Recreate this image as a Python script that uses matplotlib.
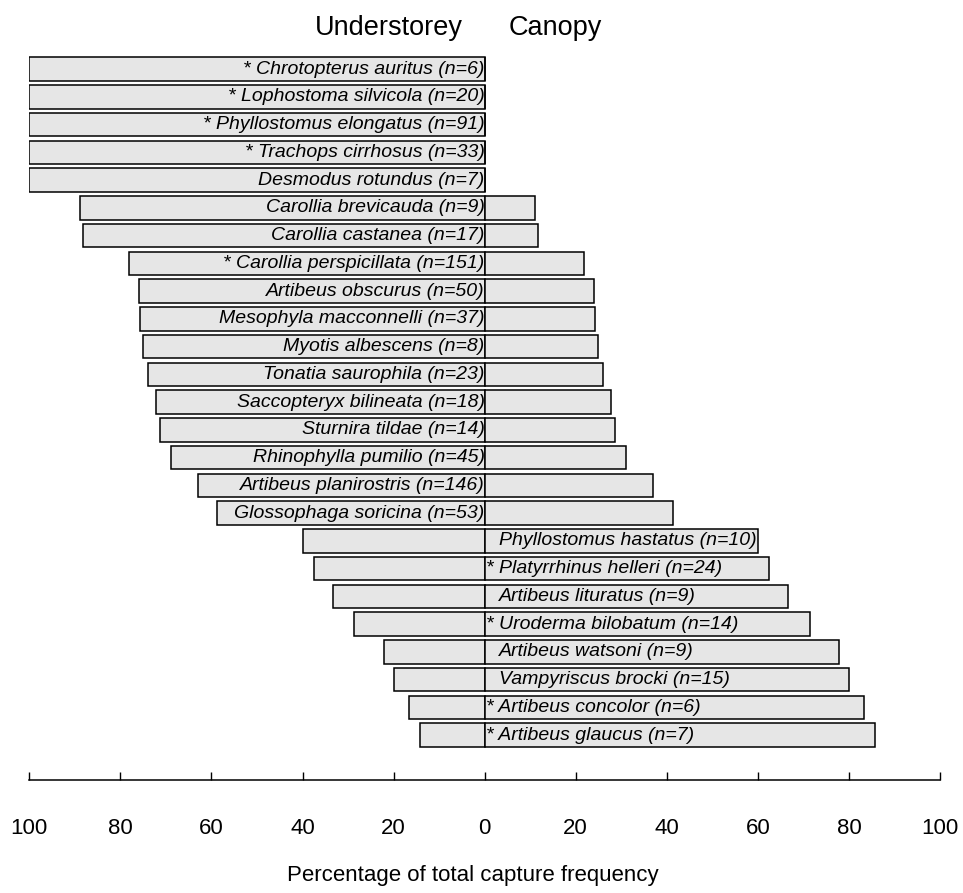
import matplotlib
matplotlib.use("Agg")
import matplotlib.pyplot as plt

plt.rcParams['font.family'] = ['Liberation Sans', 'DejaVu Sans']

species = [
    "Chrotopterus auritus", "Lophostoma silvicola", "Phyllostomus elongatus",
    "Trachops cirrhosus", "Desmodus rotundus", "Carollia brevicauda",
    "Carollia castanea", "Carollia perspicillata", "Artibeus obscurus",
    "Mesophyla macconnelli", "Myotis albescens", "Tonatia saurophila",
    "Saccopteryx bilineata", "Sturnira tildae", "Rhinophylla pumilio",
    "Artibeus planirostris", "Glossophaga soricina", "Phyllostomus hastatus",
    "Platyrrhinus helleri", "Artibeus lituratus", "Uroderma bilobatum",
    "Artibeus watsoni", "Vampyriscus brocki", "Artibeus concolor",
    "Artibeus glaucus",
]
n_captures = [6, 20, 91, 33, 7, 9, 17, 151, 50, 37, 8, 23, 18, 14, 45, 146,
              53, 10, 24, 9, 14, 9, 15, 6, 7]
significant = [1, 1, 1, 1, 0, 0, 0, 1, 0, 0, 0, 0, 0, 0, 0, 0,
               0, 0, 1, 0, 1, 0, 0, 1, 1]
understorey_pct = [100, 100, 100, 100, 100, 88.9, 88.2, 78.1, 76.0, 75.7,
                   75.0, 73.9, 72.2, 71.4, 68.9, 63.0, 58.7, 40.0, 37.5,
                   33.3, 28.6, 22.2, 20.0, 16.7, 14.3]
canopy_pct = [0, 0, 0, 0, 0, 11.1, 11.8, 21.9, 24.0, 24.3, 25.0, 26.1, 27.8,
              28.6, 31.1, 37.0, 41.3, 60.0, 62.5, 66.7, 71.4, 77.8, 80.0,
              83.3, 85.7]
tick_values = [-100, -80, -60, -40, -20, 0, 20, 40, 60, 80, 100]

W, H = 963, 893
fig = plt.figure(figsize=(W / 100, H / 100), dpi=100)

# axes placed in pixel terms: x from 29.3 to 940, y from 40 to 780
left_px, right_px, top_px, bot_px = 29.3, 940.0, 40.0, 780.0
ax = fig.add_axes([left_px / W, 1 - bot_px / H,
                   (right_px - left_px) / W, (bot_px - top_px) / H])

bar_h = 0.84
face = "#E6E6E6"
ypos = list(range(len(species)))
ax.barh(ypos, [-u for u in understorey_pct], height=bar_h, left=0,
        color=face, edgecolor="black", linewidth=1.1)
ax.barh(ypos, canopy_pct, height=bar_h, left=0,
        color=face, edgecolor="black", linewidth=1.1)

for y, name, n, star, c in zip(ypos, species, n_captures, significant, canopy_pct):
    label = ("* " if star else "") + f"{name} (n={n})"
    if c > 50:
        off = 1.5 if star else 14
        ax.annotate(label, (0, y), xytext=(off, 0), textcoords="offset pixels",
                    ha="left", va="center", fontsize=14, style="italic")
    else:
        ax.annotate(label, (0, y), xytext=(0, 0), textcoords="offset pixels",
                    ha="right", va="center", fontsize=14, style="italic")

spacing = 27.75
first_c = 69.1
ax.set_ylim((bot_px - first_c) / spacing, -(first_c - top_px) / spacing)
ax.set_xlim(-100, 100)

for s in ("top", "left", "right"):
    ax.spines[s].set_visible(False)
ax.spines["bottom"].set_linewidth(1.1)
ax.set_yticks([])
ax.set_xticks(tick_values)
ax.set_xticklabels([str(abs(v)) for v in tick_values])
ax.tick_params(axis="x", direction="in", length=6, width=1.0,
               labelsize=16, pad=27)

fig.text(389 / W, 1 - 35 / H, "Understorey", ha="center", va="baseline",
         fontsize=19.5)
fig.text(555 / W, 1 - 35 / H, "Canopy", ha="center", va="baseline",
         fontsize=19.5)
fig.text(473 / W, 1 - 876 / H, "Percentage of total capture frequency",
         ha="center", va="center", fontsize=16)

fig.savefig("out.png", dpi=100)
